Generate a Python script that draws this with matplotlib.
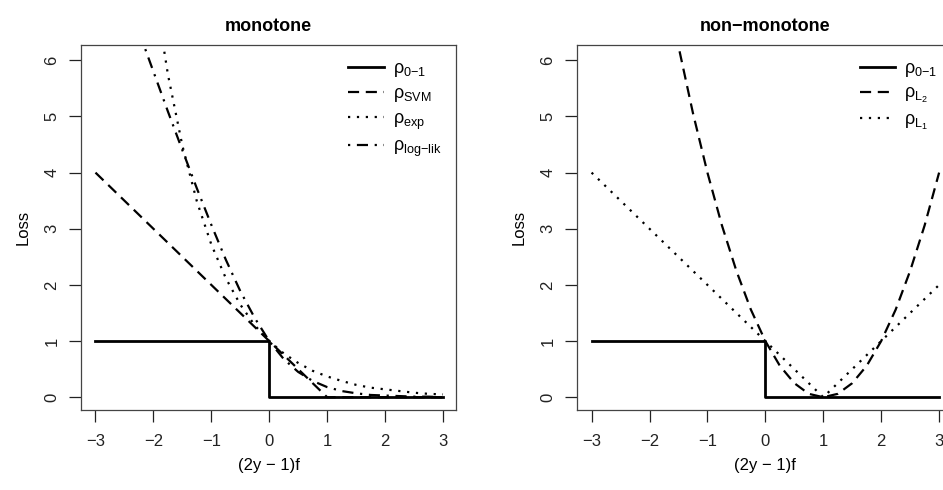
"""Monotone and non-monotone loss functions, two panels side by side."""
import matplotlib
matplotlib.use("Agg")
import matplotlib.pyplot as plt

plt.rcParams["font.family"] = ["Liberation Sans", "DejaVu Sans"]
plt.rcParams["mathtext.fontset"] = "custom"
plt.rcParams["mathtext.rm"] = "Liberation Sans"
plt.rcParams["mathtext.it"] = "Liberation Sans"

# margin values
margin = [-3.0, -2.75, -2.5, -2.25, -2.0, -1.75, -1.5, -1.25, -1.0, -0.75, -0.5, -0.25,
          0.0, 0.25, 0.5, 0.75, 1.0, 1.25, 1.5, 1.75, 2.0, 2.25, 2.5, 2.75, 3.0]

# 0-1 loss (step at 0)
step_x = [-3.0, 0.0, 0.0, 3.0]
step_y = [1.0, 1.0, 0.0, 0.0]

loss_svm = [4.0, 3.75, 3.5, 3.25, 3.0, 2.75, 2.5, 2.25, 2.0, 1.75, 1.5, 1.25,
            1.0, 0.75, 0.5, 0.25, 0.0, 0.0, 0.0, 0.0, 0.0, 0.0, 0.0, 0.0, 0.0]
loss_exp = [20.09, 15.64, 12.18, 9.49, 7.39, 5.75, 4.48, 3.49, 2.72, 2.12, 1.65, 1.28,
            1.0, 0.78, 0.61, 0.47, 0.37, 0.29, 0.22, 0.17, 0.14, 0.11, 0.08, 0.06, 0.05]
loss_loglik = [8.66, 7.94, 7.22, 6.51, 5.80, 5.09, 4.40, 3.72, 3.07, 2.45, 1.89, 1.41,
               1.0, 0.68, 0.45, 0.29, 0.18, 0.11, 0.07, 0.04, 0.03, 0.02, 0.01, 0.01, 0.0]
loss_l2 = [16.0, 14.06, 12.25, 10.56, 9.0, 7.56, 6.25, 5.06, 4.0, 3.06, 2.25, 1.56,
           1.0, 0.56, 0.25, 0.06, 0.0, 0.06, 0.25, 0.56, 1.0, 1.56, 2.25, 3.06, 4.0]
loss_l1 = [4.0, 3.75, 3.5, 3.25, 3.0, 2.75, 2.5, 2.25, 2.0, 1.75, 1.5, 1.25,
           1.0, 0.75, 0.5, 0.25, 0.0, 0.25, 0.5, 0.75, 1.0, 1.25, 1.5, 1.75, 2.0]

x_ticks = [-3, -2, -1, 0, 1, 2, 3]
y_ticks = [0, 1, 2, 3, 4, 5, 6]

LW = 1.6
STYLE_SOLID = {"linestyle": "-", "linewidth": LW + 0.4}
STYLE_DASH = {"linestyle": (0, (5, 3)), "linewidth": LW}
STYLE_DOT = {"linestyle": (0, (1, 3)), "linewidth": LW}
STYLE_DASHDOT = {"linestyle": (0, (1, 3, 5, 3)), "linewidth": LW}

LABEL_01 = "$\\rho_{\\text{0\u22121}}$"
LABEL_LOGLIK = "$\\rho_{\\text{log\u2212lik}}$"


def style_axes(ax, title):
    ax.set_xlim(-3.25, 3.23)
    ax.set_ylim(-0.23, 6.28)
    ax.set_xticks(x_ticks)
    ax.set_xticklabels(["\u2212%d" % -t if t < 0 else str(t) for t in x_ticks])
    ax.set_yticks(y_ticks)
    ax.set_yticklabels([str(t) for t in y_ticks], rotation=90, va="center")
    ax.tick_params(direction="out", length=8.5, width=0.9, labelsize=12,
                   colors="#222222")
    ax.tick_params(axis="x", pad=9)
    ax.tick_params(axis="y", pad=7)
    for sp in ax.spines.values():
        sp.set_linewidth(0.9)
        sp.set_color("#444444")
    ax.set_title(title, fontsize=13, fontweight="bold", pad=10)
    ax.set_xlabel("(2y \u2212 1)f", fontsize=12, labelpad=6)
    ax.set_ylabel("Loss", fontsize=12, labelpad=10)


def add_legend(ax):
    ax.legend(loc="upper right", frameon=False, fontsize=13, handlelength=1.95,
              labelspacing=0.35, borderaxespad=0.45, handletextpad=0.5)


fig = plt.figure(figsize=(9.43, 4.9), dpi=100)
ax1 = fig.add_axes([0.0859, 0.163, 0.398, 0.746])
ax2 = fig.add_axes([0.612, 0.163, 0.398, 0.746])

ax1.plot(step_x, step_y, color="black", label=LABEL_01, **STYLE_SOLID)
ax1.plot(margin, loss_svm, color="black", label=r"$\rho_{\mathrm{SVM}}$", **STYLE_DASH)
ax1.plot(margin, loss_exp, color="black", label=r"$\rho_{\mathrm{exp}}$", **STYLE_DOT)
ax1.plot(margin, loss_loglik, color="black", label=LABEL_LOGLIK, **STYLE_DASHDOT)
style_axes(ax1, "monotone")
add_legend(ax1)

ax2.plot(step_x, step_y, color="black", label=LABEL_01, **STYLE_SOLID)
ax2.plot(margin, loss_l2, color="black", label=r"$\rho_{L_2}$", **STYLE_DASH)
ax2.plot(margin, loss_l1, color="black", label=r"$\rho_{L_1}$", **STYLE_DOT)
style_axes(ax2, "non\u2212monotone")
add_legend(ax2)

fig.savefig("out.png", dpi=100)
